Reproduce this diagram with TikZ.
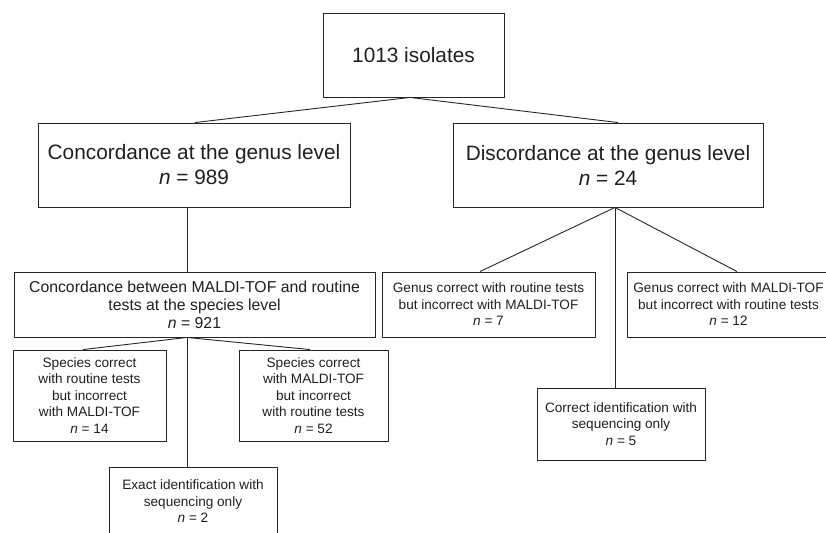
\documentclass[tikz,border=0pt]{standalone}
\usepackage{fontspec}
\setmainfont{Liberation Sans}
\begin{document}
\begin{tikzpicture}[x=1pt,y=-1pt,
  box/.style={draw=black!85, line width=0.9pt, inner sep=0pt, align=center, text=black!88, anchor=center},
  link/.style={draw=black!85, line width=0.9pt},
  big/.style={font=\fontsize{20.8}{25}\selectfont},
  mid/.style={font=\fontsize{15.8}{18}\selectfont},
  small/.style={font=\fontsize{13.6}{16.5}\selectfont}]
\useasboundingbox (0,0) rectangle (826,532);
\clip (0,0) rectangle (826,532);
\node[box,big,minimum width=181pt,minimum height=84pt] (top) at (413.5,55) {1013 isolates};
\node[box,big,minimum width=312pt,minimum height=84pt] (concG) at (194,165) {Concordance at the genus level\\\textit{n} = 989};
\node[box,big,minimum width=310pt,minimum height=84pt] (discG) at (608,165) {Discordance at the genus level\\\textit{n} = 24};
\node[box,mid,minimum width=361pt,minimum height=65pt] (concS) at (194.5,304.5) {Concordance between MALDI-TOF and routine\\tests at the species level\\\textit{n} = 921};
\node[box,small,minimum width=213pt,minimum height=65pt] (genR) at (488.5,304.5) {Genus correct with routine tests\\but incorrect with MALDI-TOF\\\textit{n} = 7};
\node[box,small,minimum width=203pt,minimum height=65pt] (genM) at (728.5,304.5) {Genus correct with MALDI-TOF\\but incorrect with routine tests\\\textit{n} = 12};
\node[box,small,minimum width=153pt,minimum height=91pt] (spR) at (89.5,395.5) {Species correct\\with routine tests\\but incorrect\\with MALDI-TOF\\\textit{n} = 14};
\node[box,small,minimum width=149pt,minimum height=91pt] (spM) at (313.5,395.5) {Species correct\\with MALDI-TOF\\but incorrect\\with routine tests\\\textit{n} = 52};
\node[box,small,minimum width=168pt,minimum height=72pt] (corr) at (621,424) {Correct identification with\\sequencing only\\\textit{n} = 5};
\node[box,small,minimum width=168pt,minimum height=69pt] (exact) at (193,501.5) {Exact identification with\\sequencing only\\\textit{n} = 2};
\draw[link] ([xshift=-3.5pt]top.south) -- ([xshift=1pt]concG.north);
\draw[link] ([xshift=-3.5pt]top.south) -- ([xshift=10pt]discG.north);
\draw[link] ([xshift=-7pt]concG.south) -- ([xshift=-7.5pt]concS.north);
\draw[link] ([xshift=-7.5pt]concS.south) -- ([xshift=-6.5pt]spR.north);
\draw[link] ([xshift=-7.5pt]concS.south) -- ([xshift=-3.5pt]spM.north);
\draw[link] ([xshift=-7.5pt]concS.south) -- ([xshift=-6pt]exact.north);
\draw[link] ([xshift=7pt]discG.south) -- ([xshift=-8.5pt]genR.north);
\draw[link] ([xshift=7pt]discG.south) -- ([xshift=8.5pt]genM.north);
\draw[link] ([xshift=7pt]discG.south) -- ([xshift=-6pt]corr.north);
\end{tikzpicture}
\end{document}
